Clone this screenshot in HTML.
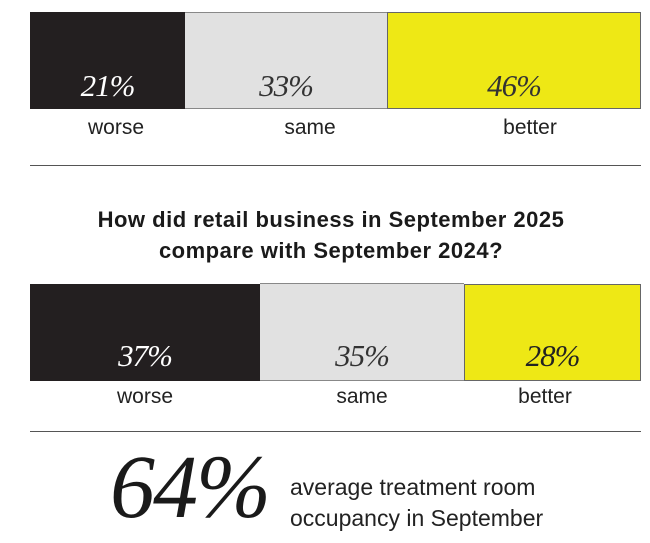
<!DOCTYPE html>
<html><head><style>
body{margin:0;width:650px;height:543px;background:#fff;position:relative;overflow:hidden;font-family:"Liberation Sans",sans-serif;}
.a{position:absolute}
.seg{position:absolute;box-sizing:border-box}
.pct{position:absolute;font-family:"Liberation Serif",serif;font-style:italic;font-size:31px;text-align:center;width:100%;letter-spacing:-1px}
.lab{position:absolute;font-size:21px;color:#222;text-align:center;transform:translateX(-50%)}
.line{position:absolute;left:30px;width:611px;height:1px;background:#555}
.t{position:absolute;width:650px;left:6px;text-align:center;font-weight:bold;font-size:22px;letter-spacing:0.5px;color:#1a1a1a}
</style></head><body>
<div class="seg" style="left:30px;top:12px;width:155px;height:97px;background:#231f20"><div class="pct" style="top:56px;color:#fff">21%</div></div>
<div class="seg" style="left:185px;top:12px;width:202px;height:97px;background:#e1e1e1;border-top:1px solid #888;border-bottom:1px solid #888"><div class="pct" style="top:55px;color:#333">33%</div></div>
<div class="seg" style="left:387px;top:12px;width:254px;height:97px;background:#eee815;border:1px solid #666"><div class="pct" style="top:55px;color:#333">46%</div></div>
<div class="lab" style="left:116px;top:116px">worse</div>
<div class="lab" style="left:310px;top:116px">same</div>
<div class="lab" style="left:530px;top:116px">better</div>
<div class="line" style="top:165px"></div>
<div class="t" style="top:207px">How did retail business in September 2025</div>
<div class="t" style="top:238px">compare with September 2024?</div>
<div class="seg" style="left:30px;top:284px;width:230px;height:97px;background:#231f20"><div class="pct" style="top:54px;color:#fff">37%</div></div>
<div class="seg" style="left:260px;top:283px;width:204px;height:98px;background:#e1e1e1;border-top:1px solid #888;border-bottom:1px solid #888"><div class="pct" style="top:54px;color:#333">35%</div></div>
<div class="seg" style="left:464px;top:284px;width:177px;height:97px;background:#eee815;border:1px solid #666"><div class="pct" style="top:53px;color:#222">28%</div></div>
<div class="lab" style="left:145px;top:385px">worse</div>
<div class="lab" style="left:362px;top:385px">same</div>
<div class="lab" style="left:545px;top:385px">better</div>
<div class="line" style="top:431px"></div>
<div class="a" style="left:110px;top:438px;font-family:'Liberation Serif',serif;font-style:italic;font-size:90px;color:#1a1a1a;letter-spacing:-2px;line-height:100px">64%</div>
<div class="a" style="left:290px;top:472px;font-size:23px;line-height:31px;color:#222">average treatment room<br>occupancy in September</div>
</body></html>
